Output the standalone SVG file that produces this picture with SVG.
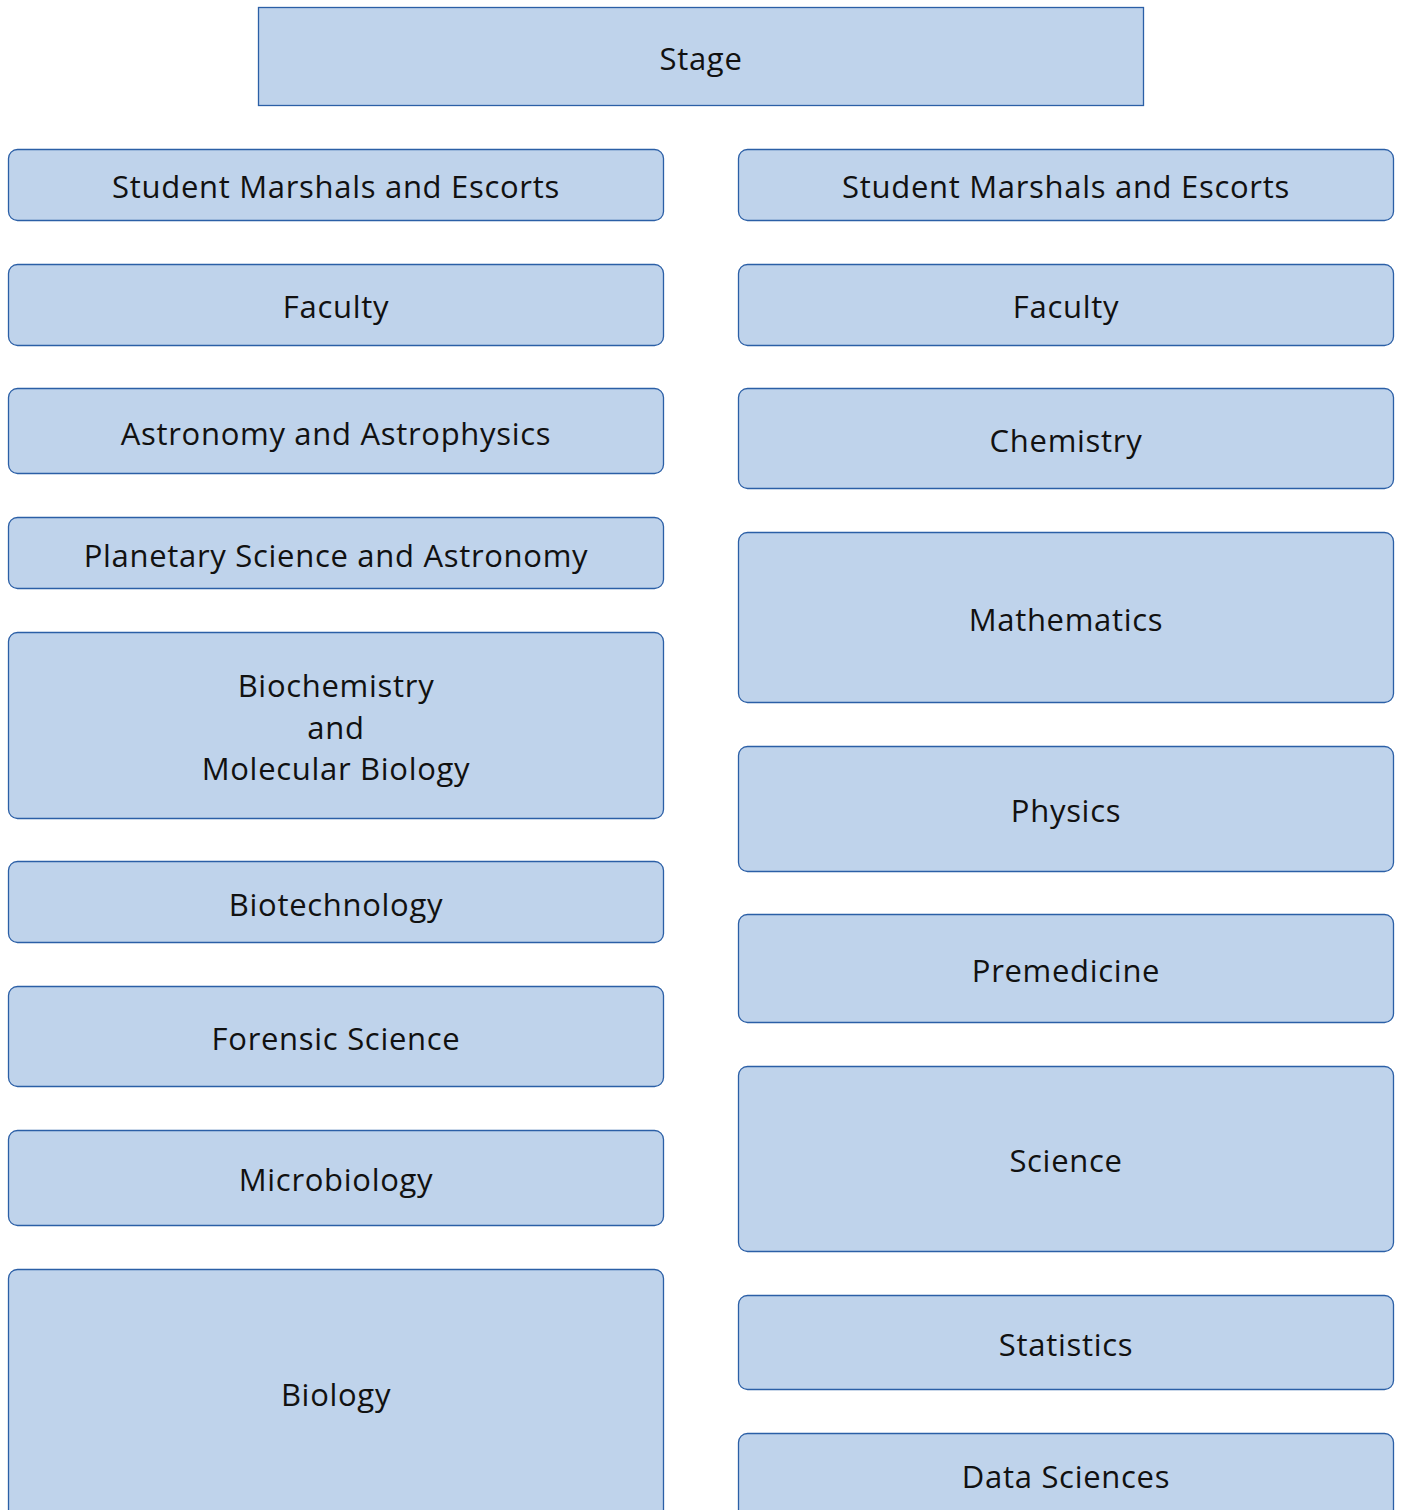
<svg xmlns="http://www.w3.org/2000/svg" width="1401" height="1510" viewBox="0 0 1401 1510">
<style>
.b{fill:#bfd3eb;stroke:#2b5fa6;stroke-width:1.3}
.t{font-family:"Open Sans",Lato,sans-serif;font-size:31px;letter-spacing:0.7px;fill:#111;text-anchor:middle;dominant-baseline:central}
</style>
<rect width="1401" height="1510" fill="#fff"/>
<g id="connectors"></g>
<g id="stage"><rect class="b" x="258.5" y="7.5" width="885" height="98"/><text class="t" x="701" y="58">Stage</text></g>
<g id="l1"><rect class="b" x="8.5" y="149.5" width="655" height="71" rx="9"/><text class="t" x="336" y="186">Student Marshals and Escorts</text></g>
<g id="l2"><rect class="b" x="8.5" y="264.5" width="655" height="81" rx="9"/><text class="t" x="336" y="306">Faculty</text></g>
<g id="l3"><rect class="b" x="8.5" y="388.5" width="655" height="85" rx="9"/><text class="t" x="336" y="433">Astronomy and Astrophysics</text></g>
<g id="l4"><rect class="b" x="8.5" y="517.5" width="655" height="71" rx="9"/><text class="t" x="336" y="555">Planetary Science and Astronomy</text></g>
<g id="l5"><rect class="b" x="8.5" y="632.5" width="655" height="186" rx="9"/><text class="t" x="336" y="685">Biochemistry</text><text class="t" x="336" y="727">and</text><text class="t" x="336" y="768">Molecular Biology</text></g>
<g id="l6"><rect class="b" x="8.5" y="861.5" width="655" height="81" rx="9"/><text class="t" x="336" y="904">Biotechnology</text></g>
<g id="l7"><rect class="b" x="8.5" y="986.5" width="655" height="100" rx="9"/><text class="t" x="336" y="1038">Forensic Science</text></g>
<g id="l8"><rect class="b" x="8.5" y="1130.5" width="655" height="95" rx="9"/><text class="t" x="336" y="1179">Microbiology</text></g>
<g id="l9"><rect class="b" x="8.5" y="1269.5" width="655" height="260" rx="9"/><text class="t" x="336" y="1394">Biology</text></g>
<g id="r1"><rect class="b" x="738.5" y="149.5" width="655" height="71" rx="9"/><text class="t" x="1066" y="186">Student Marshals and Escorts</text></g>
<g id="r2"><rect class="b" x="738.5" y="264.5" width="655" height="81" rx="9"/><text class="t" x="1066" y="306">Faculty</text></g>
<g id="r3"><rect class="b" x="738.5" y="388.5" width="655" height="100" rx="9"/><text class="t" x="1066" y="440">Chemistry</text></g>
<g id="r4"><rect class="b" x="738.5" y="532.5" width="655" height="170" rx="9"/><text class="t" x="1066" y="619">Mathematics</text></g>
<g id="r5"><rect class="b" x="738.5" y="746.5" width="655" height="125" rx="9"/><text class="t" x="1066" y="810">Physics</text></g>
<g id="r6"><rect class="b" x="738.5" y="914.5" width="655" height="108" rx="9"/><text class="t" x="1066" y="970">Premedicine</text></g>
<g id="r7"><rect class="b" x="738.5" y="1066.5" width="655" height="185" rx="9"/><text class="t" x="1066" y="1160">Science</text></g>
<g id="r8"><rect class="b" x="738.5" y="1295.5" width="655" height="94" rx="9"/><text class="t" x="1066" y="1344">Statistics</text></g>
<g id="r9"><rect class="b" x="738.5" y="1433.5" width="655" height="100" rx="9"/><text class="t" x="1066" y="1476">Data Sciences</text></g>
</svg>
